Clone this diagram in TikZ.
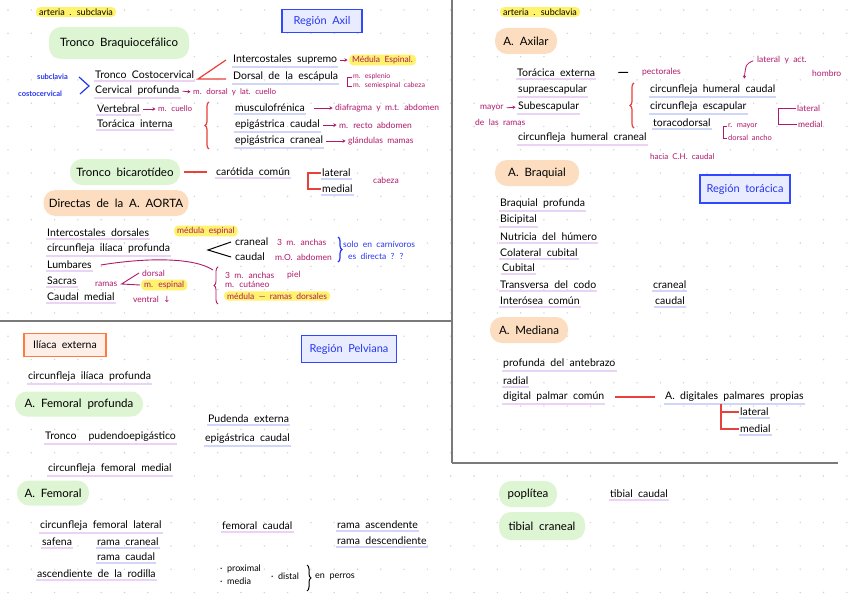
\documentclass[tikz,border=0pt]{standalone}
\usepackage{fontspec}
\setmainfont[WordSpace=2]{Lato}
\newfontfamily\dvsymb{DejaVu Sans}
\usetikzlibrary{decorations.pathreplacing,arrows.meta}
\definecolor{cMag}{HTML}{B0186A}
\definecolor{cBlu}{HTML}{2436F0}
\definecolor{cRed}{HTML}{E8403A}
\definecolor{cGrn}{HTML}{DDF5D3}
\definecolor{cOrg}{HTML}{FCDDBF}
\definecolor{cYel}{HTML}{FFF36B}
\definecolor{cUlp}{HTML}{EAD3F5}
\definecolor{cUlb}{HTML}{D0D6F7}
\definecolor{cRbd}{HTML}{3048FF}
\definecolor{cRbg}{HTML}{E9ECFF}
\definecolor{cObd}{HTML}{FF7A3D}
\definecolor{cObg}{HTML}{FDEEE8}
\definecolor{cDiv}{HTML}{7A7A7A}
\definecolor{cDot}{HTML}{D2D2D2}
\begin{document}
\begin{tikzpicture}[x=1pt,y=-1pt,
  tx/.style={anchor=west,inner sep=1pt,font=\fontsize{10.5}{12}\selectfont,text=black},
  mg/.style={anchor=west,inner sep=1pt,font=\fontsize{8.5}{10}\selectfont,text=cMag},
  bsm/.style={anchor=west,inner sep=1pt,font=\bfseries\fontsize{7.5}{9}\selectfont,text=cBlu},
  btx/.style={anchor=west,inner sep=1pt,font=\fontsize{8.5}{10}\selectfont,text=cBlu},
  ulp/.style={append after command={([yshift=-1.2pt]\tikzlastnode.south west) edge[draw=cUlp,line width=1.8pt] ([yshift=-1.2pt]\tikzlastnode.south east)}},
  ulb/.style={append after command={([yshift=-1.2pt]\tikzlastnode.south west) edge[draw=cUlb,line width=1.8pt] ([yshift=-1.2pt]\tikzlastnode.south east)}},
  hlt/.style={fill=cYel,rounded corners=4pt,inner xsep=3pt,inner ysep=1.5pt},
  gblob/.style={fill=cGrn,rounded corners=12pt,inner sep=0pt,font=\fontsize{11.5}{13}\selectfont},
  oblob/.style={fill=cOrg,rounded corners=12pt,inner sep=0pt,font=\fontsize{11.5}{13}\selectfont},
  rbox/.style={draw=cRbd,fill=cRbg,line width=1.4pt,text=cBlu,inner sep=0pt,font=\fontsize{11}{13}\selectfont},
  redl/.style={draw=cRed,line width=1.2pt},
  magl/.style={draw=cMag,line width=0.9pt},
  bluel/.style={draw=cBlu,line width=1.2pt},
  marr/.style={draw=cMag,line width=0.8pt,-{Stealth[length=3pt,width=3.5pt]},shorten <=2pt,shorten >=1.5pt},
  blk/.style={draw=black,line width=1pt},
  brc/.style={decorate,decoration={brace,amplitude=4pt}},
  divl/.style={draw=cDiv,line width=1.6pt}
]
\useasboundingbox (0,0) rectangle (848,599);
\fill[white] (0,0) rectangle (848,599);
\foreach \i in {0,...,36} \foreach \j in {0,...,25} \fill[cDot] (8+\i*23.3,10+\j*23.3) circle (0.8pt);
% dividers
\draw[divl] (452,0) -- (452,463);
\draw[divl] (0,321) -- (452,321);
\draw[divl] (452,463) -- (838,463);

% ===== top left =====
\node[hlt,font=\fontsize{9}{10}\selectfont] (h1) at (76,12) {arteria . subclavia};
\node[rbox,minimum width=80,minimum height=23] (rax) at (322,21) {Región Axil};
\node[gblob,minimum width=140,minimum height=32] (tbq) at (119,43) {Tronco Braquiocefálico};
\node[bsm] (scl) at (36,77) {subclavia};
\node[bsm] (cct) at (17,94) {costocervical};
\coordinate (bv1) at (79,77);
\coordinate (bv) at (89,86);
\coordinate (bv2) at (80,94);
\draw[bluel] (bv1) -- (bv) -- (bv2);
\node[tx,ulp] (tcc) at (94,75) {Tronco Costocervical};
\node[tx,ulp] (cpr) at (94,91) {Cervical profunda};
\node[mg,font=\fontsize{8}{9}\selectfont] (mdl) at (192,92) {m. dorsal y lat. cuello};
\node[tx,ulp] (vrt) at (96,109) {Vertebral};
\node[mg,font=\fontsize{8}{9}\selectfont] (mcu) at (157,109) {m. cuello};
\node[tx,ulp] (tin) at (96,124) {Torácica interna};
\node[tx,ulb] (ics) at (232,60) {Intercostales supremo};
\node[mg,hlt] (mes1) at (349,60) {Médula Espinal.};
\node[tx,ulb] (dde) at (232,77) {Dorsal de la escápula};
\node[mg,font=\fontsize{7}{8}\selectfont] (esp) at (352,77) {m. esplenio};
\node[mg,font=\fontsize{7}{8}\selectfont] (sem) at (352,86) {m. semiespinal cabeza};
\coordinate (ra) at (198,79);
\draw[redl] ([xshift=-6pt]ics.west) -- (ra) -- ([xshift=-6pt,yshift=-2pt]dde.west);
\draw[marr] (ics.east) -- (mes1.west);
\draw[marr] (cpr.east) -- (mdl.west);
\draw[marr] (vrt.east) -- (mcu.west);
\draw[magl] (esp.west) -- ++(-5,0) |- (sem.west);
\draw[redl,brc] (209,149) -- (209,102);
\node[tx,ulb] (mfr) at (234,108) {musculofrénica};
\node[mg] (dia) at (334,108) {diafragma y m.t. abdomen};
\node[tx,ulb] (epc) at (234,125) {epigástrica caudal};
\node[mg] (mra) at (338,125) {m. recto abdomen};
\node[tx,ulb] (epr) at (234,141) {epigástrica craneal};
\node[mg] (gma) at (347,141) {glándulas mamas};
\draw[marr,shorten <=8pt] (mfr.east) -- (dia.west);
\draw[marr] (epc.east) -- (mra.west);
\draw[marr] (epr.east) -- (gma.west);
\node[gblob,minimum width=110,minimum height=26] (tbi) at (125,172) {Tronco bicarotídeo};
\node[tx,ulp] (cco) at (215,172) {carótida común};
\draw[redl,shorten <=4pt,shorten >=8pt] (tbi.east) -- (cco.west);
\node[tx,ulb] (lat1) at (321,173) {lateral};
\node[tx,ulb] (med1) at (321,189) {medial};
\draw[redl] (lat1.west) -- ++(-13,0) |- (med1.west);
\node[mg] (cab) at (372,180) {cabeza};
\node[oblob,minimum width=145,minimum height=26] (dir) at (116,203) {Directas de la A. AORTA};
\node[tx,ulp] (idr) at (46,233) {Intercostales dorsales};
\node[mg,hlt] (mesp) at (174,231) {médula espinal};
\node[tx,ulp] (cip) at (46,249) {circunfleja ilíaca profunda};
\node[tx] (cra) at (234,242) {craneal};
\node[mg] (tma) at (276,242) {3 m. anchas};
\node[tx] (cau) at (234,257) {caudal};
\node[mg] (moa) at (274,257) {m.O. abdomen};
\coordinate (ka) at (208,250);
\draw[blk] ([xshift=-3pt]cra.west) -- (ka) -- ([xshift=-3pt]cau.west);
\draw[bluel,brc] (338,237) -- (338,262);
\node[btx] (sol) at (342,244) {solo en carnívoros};
\node[btx] (esd) at (347,256) {es directa ? ?};
\node[tx,ulp] (lum) at (46,265) {Lumbares};
\coordinate (mb) at (213,270);
\draw[magl] ([xshift=8pt]lum.east) .. controls (150,257) and (195,258) .. (mb);
\draw[magl,brc] (218,304) -- (218,267);
\node[mg] (tm2) at (224,275) {3 m. anchas};
\node[mg] (pie) at (286,275) {piel};
\node[mg] (mcut) at (224,284) {m. cutáneo};
\node[mg,hlt] (mrd) at (224,296) {médula — ramas dorsales};
\node[tx,ulp] (sac) at (46,281) {Sacras};
\node[mg] (ram) at (94,284) {ramas};
\node[mg] (dor) at (141,273) {dorsal};
\node[mg,hlt] (mes2) at (141,285) {m. espinal};
\draw[magl] ([xshift=-2pt]dor.west) -- ([xshift=3pt]ram.east) -- ([xshift=-1pt]mes2.west);
\node[tx,ulp] (cme) at (46,297) {Caudal medial};
\node[mg] (ven) at (132,299) {ventral {\dvsymb ↓}};

% ===== bottom left =====
\node[draw=cObd,fill=cObg,line width=1.4pt,inner sep=0pt,minimum width=82,minimum height=23,font=\fontsize{10.5}{12}\selectfont] (ile) at (65,345) {Ilíaca externa};
\node[rbox,minimum width=95,minimum height=27] (rpe) at (349,349) {Región Pelviana};
\node[tx,ulp] (cip2) at (27,377) {circunfleja ilíaca profunda};
\node[gblob,minimum width=128,minimum height=25] (afp) at (79,404) {A. Femoral profunda};
\node[tx,ulb] (pex) at (207,419) {Pudenda externa};
\node[tx,ulb] (epc2) at (204,439) {epigástrica caudal};
\node[tx,ulp] (tpe) at (44,437) {Tronco\hspace{12pt}pudendoepigástico};
\node[tx,ulp] (cfm) at (47,469) {circunfleja femoral medial};
\node[gblob,minimum width=72,minimum height=25] (afe) at (53,493) {A. Femoral};
\node[tx,ulp] (cfl) at (39,526) {circunfleja femoral lateral};
\node[tx,ulp] (saf) at (41,542) {safena};
\node[tx,ulb] (rcr) at (96,542) {rama craneal};
\node[tx,ulb] (rca) at (96,557) {rama caudal};
\node[tx,ulp] (asr) at (36,574) {ascendiente de la rodilla};
\node[tx,ulp] (fca) at (221,526) {femoral caudal};
\node[tx,ulb] (ras) at (336,525) {rama ascendente};
\node[tx,ulb] (rde) at (336,541) {rama descendiente};
\node[tx,font=\fontsize{9}{10}\selectfont] (pro) at (219,569) {· proximal};
\node[tx,font=\fontsize{9}{10}\selectfont] (mdi) at (219,581) {· media};
\node[tx,font=\fontsize{9}{10}\selectfont] (dis) at (270,576) {· distal};
\draw[blk,brc] (307,565) -- (307,591);
\node[tx,font=\fontsize{9}{10}\selectfont] (enp) at (314,577) {en perros};

% ===== top right =====
\node[hlt,font=\fontsize{9}{10}\selectfont] (h2) at (540,12) {arteria . subclavia};
\node[oblob,minimum width=62,minimum height=26] (aax) at (526,41) {A. Axilar};
\node[tx,ulp] (tex) at (516,73) {Torácica externa};
\node[mg] (pec) at (641,72) {pectorales};
\draw[blk,shorten <=22pt,shorten >=13pt] (tex.east) -- (pec.west);
\node[mg] (lya) at (756,60) {lateral y act.};
\node[mg] (hom) at (811,73) {hombro};
\node[tx,ulp] (spe) at (517,90) {supraescapular};
\node[mg] (may) at (479,108) {mayor};
\node[tx,ulp] (sbe) at (517,107) {Subescapular};
\draw[marr] (may.east) -- (sbe.west);
\node[mg] (dlr) at (474,122) {de las ramas};
\draw[redl,brc] (634,128) -- (634,83);
\node[tx,ulb] (chc) at (649,90) {circunfleja humeral caudal};
\node[tx,ulb] (ces) at (649,107) {circunfleja escapular};
\node[tx,ulb] (tcd) at (652,123) {toracodorsal};
\coordinate (ha) at (744,80);
\draw[marr] ([xshift=-1pt]lya.west) .. controls (746,64) .. (ha);
\node[mg] (lat2) at (796,108) {lateral};
\node[mg] (med2) at (797,124) {medial};
\draw[magl] (lat2.west) -- ++(-18,0) |- (med2.west);
\node[mg,font=\fontsize{7.5}{8.5}\selectfont] (rma) at (727,126) {r. mayor};
\node[mg,font=\fontsize{7.5}{8.5}\selectfont] (dan) at (727,138) {dorsal ancho};
\draw[magl] (rma.west) -- ++(-4,0) |- (dan.west);
\node[tx,ulp] (chr) at (517,138) {circunfleja humeral craneal};
\node[mg,font=\fontsize{8}{9}\selectfont] (hch) at (649,157) {hacia C.H. caudal};

% ===== middle right =====
\node[oblob,minimum width=84,minimum height=26] (abr) at (537,173) {A. Braquial};
\node[rbox,minimum width=90,minimum height=28] (rto) at (745,189) {Región torácica};
\node[tx,ulp] (bpr) at (499,204) {Braquial profunda};
\node[tx,ulp] (bic) at (499,220) {Bicipital};
\node[tx,ulp] (nut) at (499,237) {Nutricia del húmero};
\node[tx,ulp] (ccu) at (499,253) {Colateral cubital};
\node[tx,ulp] (cub) at (501,268) {Cubital};
\node[tx,ulp] (tco) at (499,285) {Transversa del codo};
\node[tx,ulp] (ico) at (499,301) {Interósea común};
\node[tx,ulb] (cr2) at (652,285) {craneal};
\node[tx,ulb] (ca2) at (654,301) {caudal};

% ===== lower right =====
\node[oblob,minimum width=78,minimum height=26] (ame) at (529,330) {A. Mediana};
\node[tx,ulp] (pan) at (502,364) {profunda del antebrazo};
\node[tx,ulp] (rad) at (502,381) {radial};
\node[tx,ulp] (dpc) at (502,397) {digital palmar común};
\node[tx,ulb] (adp) at (664,397) {A. digitales palmares propias};
\draw[redl,shorten <=10pt,shorten >=9pt] (dpc.east) -- (adp.west);
\node[tx,ulb] (lat3) at (739,412) {lateral};
\node[tx,ulb] (med3) at (739,429) {medial};
\coordinate (dk) at (721,404);
\draw[redl] (dk) |- (lat3.west);
\draw[redl] (dk) |- (med3.west);
\node[gblob,minimum width=58,minimum height=26] (pop) at (528,494) {poplítea};
\node[tx,ulp] (tca) at (609,494) {tibial caudal};
\node[gblob,minimum width=86,minimum height=28] (tcr) at (542,526) {tibial craneal};
\end{tikzpicture}
\end{document}
